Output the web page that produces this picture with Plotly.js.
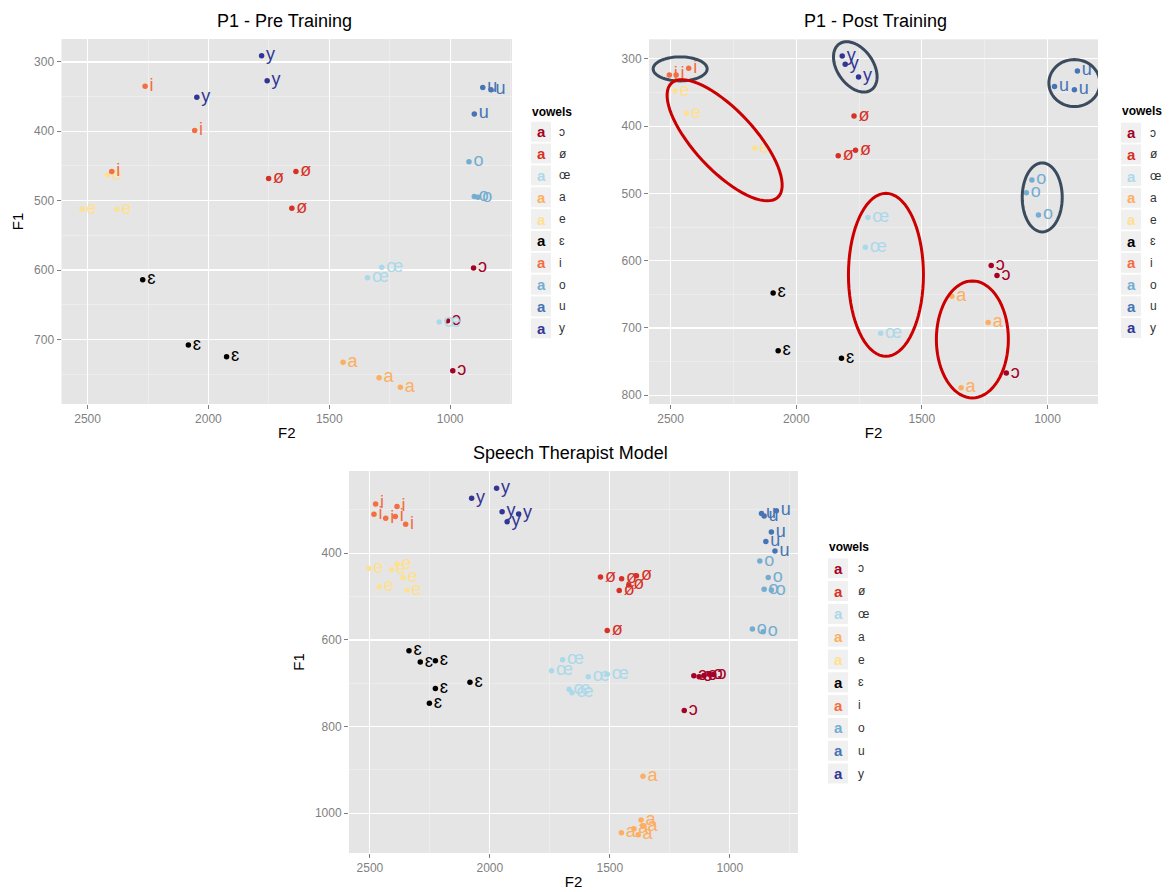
<!DOCTYPE html>
<html>
<head>
<meta charset="utf-8">
<script src="https://cdn.plot.ly/plotly-3.0.1.min.js"></script>
<style>html,body{margin:0;padding:0;background:#fff;}#chart{width:1170px;height:892px;}</style>
</head>
<body>
<div id="chart"></div>
<script>
// ---------- DATA ----------
const vowels = ['ɔ','ø','œ','a','e','ɛ','i','o','u','y'];
const vowelColors = ['#A50026','#D73027','#ABD9E9','#FDAE61','#FEE090','#000000','#F46D43','#74ADD1','#4575B4','#313695'];

// P1 - Pre Training (one inner array per vowel, same order as `vowels`)
const preF2 = [[903,1011,989],[1751,1638,1655],[1283,1342,1045],[1443,1294,1206],[2418,2523,2378],
               [2272,2083,1925],[2262,2057,2400],[922,900,885],[865,831,900],[1780,1757,2048]];
const preF1 = [[597,673,745],[468,458,511],[596,611,675],[733,755,769],[463,512,512],
               [614,708,725],[335,399,458],[444,494,495],[337,340,375],[291,327,351]];

// P1 - Post Training
const postF2 = [[1224,1201,1164],[1770,1764,1833],[1715,1725,1664],[1381,1236,1344],[2482,2437,2165],
                [2092,2072,1820],[2505,2478,2428],[1062,1084,1036],[881,972,893],[1817,1805,1752]];
const postF1 = [[607,622,767],[385,436,444],[536,580,708],[653,692,789],[348,381,433],
                [648,734,745],[324,324,314],[480,499,532],[318,341,346],[296,308,327]];

// Speech Therapist Model
const stF2 = [[1150,1128,1108,1086,1070,1190],[1539,1451,1389,1421,1461,1511],[1697,1743,1590,1511,1670,1658],
              [1362,1370,1400,1452,1382,1362],[2504,2410,2387,2362,2461,2345],[2337,2290,2227,2227,2252,2083],
              [2476,2387,2483,2434,2394,2351],[875,840,857,827,906,861],[868,857,806,827,850,812],
              [1972,2076,1949,1880,1928]];
const stF1 = [[683,685,682,679,680,763],[455,459,452,473,486,578],[646,671,685,679,714,722],
              [915,1016,1036,1045,1050,1030],[435,438,425,456,477,485],[625,651,648,712,746,698],
              [286,292,310,319,315,333],[418,456,483,485,575,581],[308,314,302,351,373,395],
              [250,273,304,309,327]];

// Ellipses drawn on the post-training panel: centre (F2, F1), radii in px, tilt in degrees
const ellipseF2 = [2462, 1765, 893, 1021, 2285, 1643, 1299];
const ellipseF1 = [315, 312, 336, 506, 421, 621, 717];
const ellipseRx = [27, 28, 25.5, 20, 78, 37.5, 36];
const ellipseRy = [12, 18, 23.5, 34.5, 30, 81.5, 58.5];
const ellipseTilt = [0, 55, 0, 0, 47, 0, 0];
const ellipseColor = ['#3B4B5E','#3B4B5E','#3B4B5E','#3B4B5E','#CC0000','#CC0000','#CC0000'];

// ---------- LAYOUT HELPERS ----------
const W = 1170, H = 892;
const FONT = 'Liberation Sans, Arial, Helvetica, sans-serif';
const panels = [
  {sfx:'',  F2:preF2,  F1:preF1,  px:[61.5,512], py:[39,404],   xr:[2608,744], yr:[793,267], ydt:100, title:'P1 - Pre Training', tx:284, ty:21, ytitle:'F1',
   leg:{L:531, T:111.5, Y0:131.7, S:21.84, lx:557}},
  {sfx:'2', F2:postF2, F1:postF1, px:[649,1098], py:[39.3,404], xr:[2586,799], yr:[813,271], ydt:100, title:'P1 - Post Training', tx:875, ty:21, ytitle:'',
   leg:{L:1121, T:111, Y0:132.7, S:21.7, lx:1148}},
  {sfx:'3', F2:stF2,   F1:stF1,   px:[349,798],  py:[471,853],  xr:[2587,716], yr:[1092,210], ydt:200, title:'Speech Therapist Model', tx:570, ty:453, ytitle:'F1',
   leg:{L:828, T:546.7, Y0:568.3, S:22.8, lx:856}}
];

const traces = [];
const layout = {
  width: W, height: H,
  margin: {l:0, r:0, t:0, b:0},
  paper_bgcolor: '#ffffff',
  plot_bgcolor: '#E5E5E5',
  showlegend: false,
  font: {family: FONT, color: '#000'},
  annotations: [],
  shapes: []
};

const axCommon = {
  showgrid: true, gridcolor: '#FFFFFF', gridwidth: 1.2,
  zeroline: false, showline: false,
  ticks: 'outside', ticklen: 4, tickwidth: 1, tickcolor: '#7F7F7F',
  tickfont: {family: FONT, size: 12, color: '#7F7F7F'},
  fixedrange: true
};

panels.forEach(p => {
  const xa = 'xaxis' + p.sfx, ya = 'yaxis' + p.sfx;
  layout[xa] = Object.assign({}, axCommon, {
    domain: [p.px[0]/W, p.px[1]/W], range: p.xr, anchor: 'y' + p.sfx,
    tick0: 0, dtick: 500,
    minor: {dtick: 250, tick0: 0, showgrid: true, gridcolor: '#F2F2F2', gridwidth: 0.6, ticks: ''},
    title: {text: 'F2', font: {family: FONT, size: 15, color: '#000'}, standoff: 2}
  });
  layout[ya] = Object.assign({}, axCommon, {
    domain: [1 - p.py[1]/H, 1 - p.py[0]/H], range: p.yr, anchor: 'x' + p.sfx,
    tick0: 0, dtick: p.ydt,
    minor: {dtick: p.ydt/2, tick0: 0, showgrid: true, gridcolor: '#F2F2F2', gridwidth: 0.6, ticks: ''},
    title: {text: p.ytitle, font: {family: FONT, size: 15, color: '#000'}, standoff: 6}
  });

  vowels.forEach((v, i) => {
    traces.push({
      type: 'scatter', mode: 'markers+text',
      x: p.F2[i], y: p.F1[i],
      text: p.F2[i].map(() => v),
      textposition: 'middle right',
      textfont: {family: FONT, size: 18, color: vowelColors[i]},
      marker: {size: 5.5, color: vowelColors[i]},
      xaxis: 'x' + p.sfx, yaxis: 'y' + p.sfx,
      name: v, showlegend: false, hoverinfo: 'skip', cliponaxis: true
    });
  });

  // panel title
  layout.annotations.push({
    xref: 'paper', yref: 'paper', x: p.tx/W, y: 1 - p.ty/H,
    text: p.title, showarrow: false, xanchor: 'center', yanchor: 'middle',
    font: {family: FONT, size: 18, color: '#000'}
  });

  // ggplot-style legend
  const g = p.leg;
  layout.annotations.push({
    xref: 'paper', yref: 'paper', x: (g.L - 1)/W, y: 1 - g.T/H,
    text: '<b>vowels</b>', showarrow: false, xanchor: 'left', yanchor: 'middle',
    font: {family: FONT, size: 12, color: '#000'}
  });
  vowels.forEach((v, i) => {
    const cy = g.Y0 + i*g.S;
    layout.shapes.push({
      type: 'rect', xref: 'paper', yref: 'paper', layer: 'below',
      x0: g.L/W, x1: (g.L + 20)/W, y0: 1 - (cy - 10)/H, y1: 1 - (cy + 10)/H,
      fillcolor: '#F0F0F0', line: {width: 0}
    });
    layout.annotations.push({
      xref: 'paper', yref: 'paper', x: (g.L + 10)/W, y: 1 - cy/H,
      text: '<b>a</b>', showarrow: false, xanchor: 'center', yanchor: 'middle',
      font: {family: FONT, size: 15, color: vowelColors[i]}
    });
    layout.annotations.push({
      xref: 'paper', yref: 'paper', x: g.lx/W, y: 1 - cy/H,
      text: v, showarrow: false, xanchor: 'left', yanchor: 'middle',
      font: {family: FONT, size: 12, color: '#333333'}
    });
  });
});

// ellipses on the post-training panel (built from centre/radius/tilt through the panel's scale)
(function(){
  const p = panels[1];
  const kx = (p.px[1] - p.px[0]) / (p.xr[0] - p.xr[1]);
  const ky = (p.py[1] - p.py[0]) / (p.yr[0] - p.yr[1]);
  ellipseF2.forEach((cx, k) => {
    const cy = ellipseF1[k], a = ellipseRx[k], b = ellipseRy[k], th = ellipseTilt[k]*Math.PI/180;
    let d = '';
    for (let s = 0; s <= 72; s++) {
      const t = s/72*2*Math.PI;
      const dx = a*Math.cos(t)*Math.cos(th) - b*Math.sin(t)*Math.sin(th);
      const dy = a*Math.cos(t)*Math.sin(th) + b*Math.sin(t)*Math.cos(th);
      const X = cx - dx/kx, Y = cy + dy/ky;
      d += (s === 0 ? 'M' : 'L') + X.toFixed(2) + ',' + Y.toFixed(2);
    }
    d += 'Z';
    layout.shapes.push({type: 'path', xref: 'x2', yref: 'y2', path: d, layer: 'above',
                        line: {color: ellipseColor[k], width: 3}});
  });
})();

Plotly.newPlot('chart', traces, layout, {staticPlot: true, displayModeBar: false});
</script>
</body>
</html>
